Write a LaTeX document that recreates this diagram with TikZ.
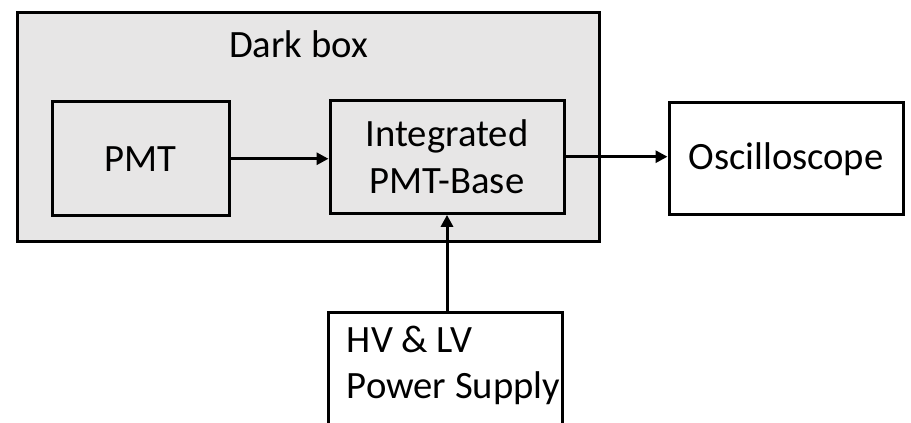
\documentclass[tikz,border=0pt]{standalone}
\usepackage{fontspec}
\setmainfont{Carlito}
\usetikzlibrary{arrows.meta}
\definecolor{boxgray}{HTML}{E7E6E6}
\begin{document}
\begin{tikzpicture}[x=0.75pt,y=-0.75pt,line width=2.25pt,
  font=\fontsize{29}{35}\selectfont,
  >={Triangle[length=9pt,width=9pt]},
  block/.style={draw,rectangle,inner sep=0pt}]
  \clip (0,0) rectangle (911,422);
  % dark box
  \node[block,fill=boxgray,minimum width=436.7pt,minimum height=171.75pt] (darkbox) at (308.85,127.2) {};
  \node[anchor=base] (darktitle) at (298.5,57) {Dark box};
  \node[block,minimum width=132.75pt,minimum height=85.5pt] (pmt) at (140.8,158.75) {PMT};
  \node[block,align=center,minimum width=175.5pt,minimum height=85pt] (base) at (447,156.7) {Integrated\\PMT-Base};
  % outside
  \node[block,fill=white,minimum width=175.5pt,minimum height=84pt] (scope) at (786,158.8) {Oscilloscope};
  \node[block,fill=white,anchor=north,minimum width=175.3pt,minimum height=112pt] (supply) at (445.8,311) {};
  \node[anchor=base west,align=left,font=\fontsize{29}{34}\selectfont] (supplytext) at (341,398) {HV \& LV\\Power Supply};
  \draw[->] (pmt.east) -- (pmt.east -| base.west);
  \draw[->] (base.east) -- (base.east -| scope.west);
  \draw[->] (base.south |- supply.north) -- (base.south);
\end{tikzpicture}
\end{document}
